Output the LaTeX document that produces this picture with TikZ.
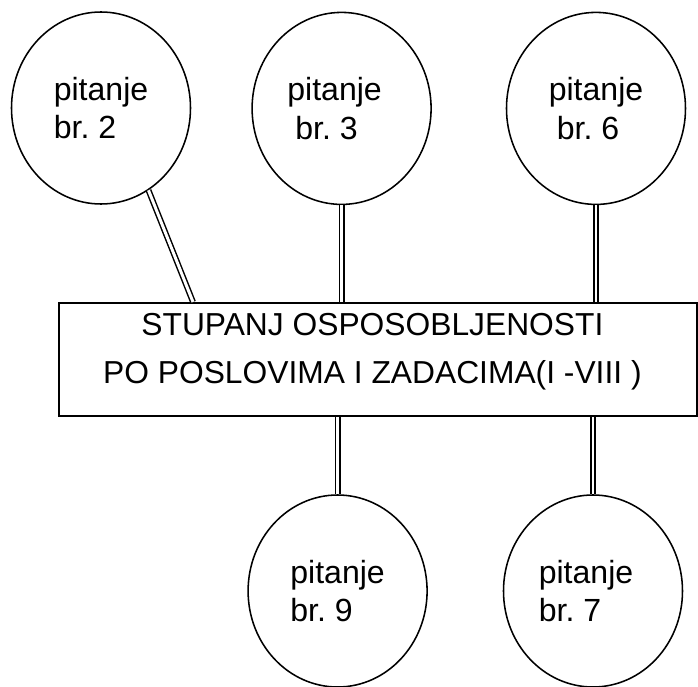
\documentclass[tikz,border=0pt]{standalone}
\usepackage{fontspec}
\setmainfont{Liberation Sans}
\usetikzlibrary{shapes.geometric}
\frenchspacing

\begin{document}
\begin{tikzpicture}[
    question/.style={ellipse, draw, line width=1.1pt, inner sep=0pt, minimum width=4.475cm, minimum height=4.8cm, align=left, font=\fontsize{22.8}{27.4}\selectfont},
    levelbox/.style={rectangle, draw, line width=1.4pt, minimum width=15.95cm, minimum height=2.825cm},
    boxtext/.style={align=center, font=\fontsize{22.6}{34.1}\selectfont},
    link/.style={double, double distance=2.1pt, line width=1.05pt}]
    \useasboundingbox (0,0) rectangle (17.45,-17.175);
    % questions above
    \node[question] (q2) at (2.525,-2.7) {pitanje\\br. 2};
    \node[question] (q3) at (8.54,-2.71) {pitanje\hspace*{.35cm}\\\hspace*{.2cm}br. 3};
    \node[question] (q6) at (14.9,-2.71) {pitanje\\\hspace*{.2cm}br. 6};
    % central box
    \node[levelbox] (box) at (9.45,-8.9875) {};
    \node[boxtext, anchor=base] (boxlabel) at (9.31,-9.575) {STUPANJ OSPOSOBLJENOSTI\\PO POSLOVIMA I ZADACIMA(I -VIII )};
    % questions below
    \node[question] (q9) at (8.44,-14.775) {pitanje\\br. 9};
    \node[question] (q7) at (14.825,-14.775) {pitanje\hspace*{.35cm}\\br. 7};
    % links
    \draw[link] (q2.-60) -- ([xshift=3.375cm]box.north west);
    \draw[link] (q3.south) -- (q3.south |- box.north);
    \draw[link] (q6.south) -- (q6.south |- box.north);
    \draw[link] (box.south -| q9.north) -- (q9.north);
    \draw[link] (box.south -| q7.north) -- (q7.north);
\end{tikzpicture}
\end{document}
